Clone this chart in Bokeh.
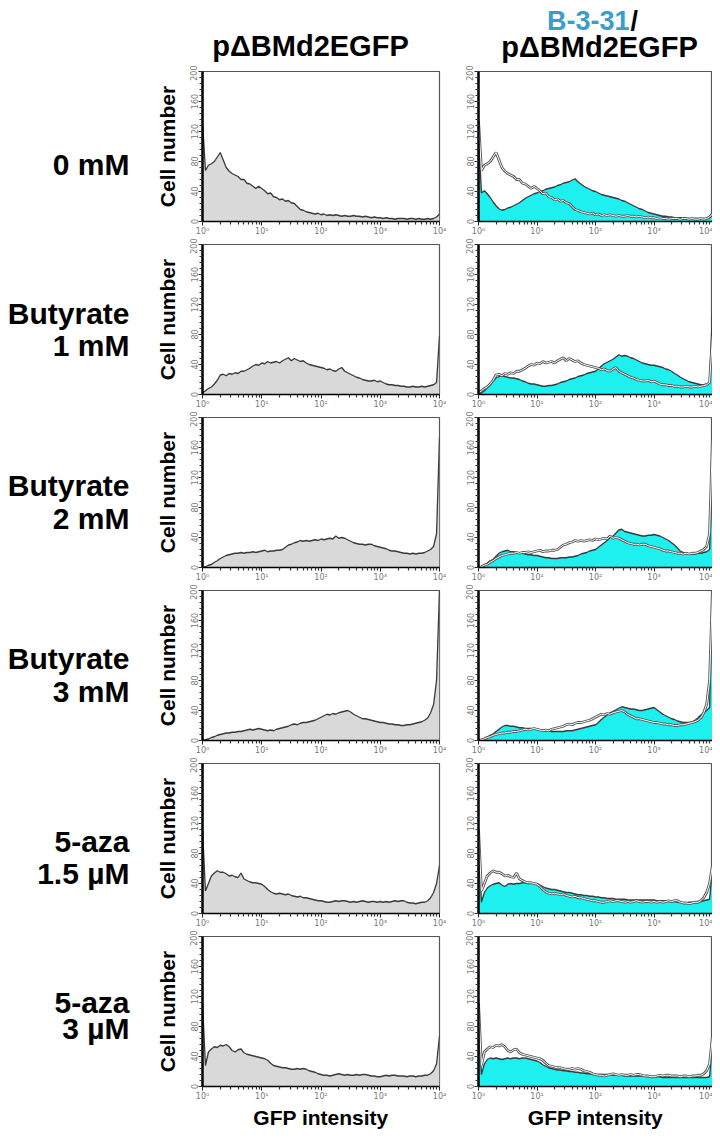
import numpy as np
from bokeh.plotting import figure
from bokeh.layouts import column, row
from bokeh.models import Range1d, FixedTicker, CustomJSTickFormatter
from bokeh.core.properties import value
from bokeh.embed import file_html
from bokeh.resources import INLINE

# ---------------- data ----------------
row_labels = [["0 mM"], ["Butyrate", "1 mM"], ["Butyrate", "2 mM"],
              ["Butyrate", "3 mM"], ["5-aza", "1.5 µM"], ["5-aza", "3 µM"]]
col_titles = ["pΔBMd2EGFP", "B-3-31", "/", "pΔBMd2EGFP"]
x_ticks = [1, 10, 100, 1000, 10000]
y_ticks = [0, 40, 80, 120, 160, 200]
x_label = "GFP intensity"
y_label = "Cell number"

# channel grid: 0.05 decade bins from 10^0 to 10^4 (81 channels)
channels = 10 ** (np.arange(81) * 0.05)

ctrl_0mM = [134, 68, 75, 77, 80, 86, 92, 82, 72, 67,
            64, 62, 60, 56, 56, 51, 50, 47, 44, 47,
            44, 41, 37, 38, 33, 32, 29, 30, 27, 28,
            25, 24, 20, 16, 15, 13, 12, 11, 10, 11,
            9, 10, 8, 9, 8, 9, 8, 7, 8, 7,
            7, 8, 7, 7, 6, 7, 6, 5, 6, 5,
            5, 4, 5, 4, 4, 3, 4, 4, 4, 3,
            4, 4, 3, 4, 3, 3, 4, 3, 4, 6,
            10]
b331_0mM = [120, 38, 41, 37, 32, 26, 21, 17, 15, 16,
            18, 19, 21, 23, 25, 28, 31, 33, 35, 37,
            38, 40, 41, 43, 44, 45, 46, 48, 49, 51,
            52, 53, 55, 57, 53, 50, 47, 45, 43, 41,
            40, 38, 36, 35, 34, 33, 32, 31, 30, 28,
            27, 25, 23, 21, 19, 17, 16, 14, 12, 11,
            10, 9, 8, 7, 7, 6, 6, 5, 5, 5,
            4, 4, 4, 4, 4, 4, 4, 4, 4, 5,
            8]
ctrl_but1 = [2, 5, 8, 10, 14, 19, 26, 27, 25, 28,
             27, 29, 28, 31, 31, 33, 35, 38, 40, 39,
             42, 41, 44, 42, 43, 44, 42, 45, 47, 49,
             45, 48, 46, 44, 45, 42, 40, 39, 38, 37,
             36, 35, 33, 34, 32, 31, 34, 36, 31, 29,
             27, 25, 23, 22, 20, 19, 18, 18, 19, 17,
             18, 16, 14, 13, 13, 12, 12, 11, 11, 10,
             10, 11, 10, 10, 11, 10, 11, 12, 13, 16,
             78]
b331_but1 = [1, 2, 5, 9, 13, 18, 22, 24, 25, 24,
             23, 22, 22, 21, 20, 18, 17, 15, 14, 14,
             13, 12, 11, 11, 12, 12, 13, 14, 16, 17,
             18, 20, 21, 22, 24, 25, 26, 28, 29, 30,
             31, 34, 38, 41, 43, 45, 47, 50, 53, 51,
             52, 51, 49, 48, 46, 44, 42, 41, 40, 39,
             39, 38, 37, 36, 34, 33, 31, 28, 26, 23,
             21, 19, 17, 16, 15, 14, 13, 13, 14, 15,
             113]
ctrl_but2 = [0, 1, 3, 4, 7, 9, 12, 14, 16, 17,
             18, 19, 19, 20, 19, 20, 20, 21, 20, 21,
             22, 23, 21, 22, 22, 23, 23, 24, 27, 30,
             31, 33, 34, 36, 35, 36, 35, 36, 37, 36,
             38, 37, 38, 39, 38, 42, 39, 40, 39, 37,
             35, 33, 32, 31, 31, 30, 31, 31, 29, 28,
             27, 26, 25, 23, 22, 22, 21, 20, 19, 19,
             18, 19, 18, 19, 19, 20, 22, 24, 28, 45,
             173]
b331_but2 = [0, 1, 4, 6, 9, 11, 15, 19, 21, 22,
             23, 21, 21, 20, 19, 19, 18, 17, 17, 16,
             16, 15, 14, 13, 13, 12, 12, 12, 13, 13,
             13, 14, 14, 15, 16, 18, 19, 20, 22, 23,
             24, 27, 30, 33, 36, 40, 42, 46, 50, 51,
             48, 47, 46, 45, 44, 43, 42, 42, 43, 43,
             44, 43, 42, 40, 38, 36, 33, 30, 26, 22,
             20, 19, 18, 18, 18, 19, 19, 20, 21, 24,
             116]
ctrl_but3 = [0, 1, 2, 4, 5, 7, 8, 9, 10, 10,
             11, 11, 12, 12, 13, 14, 15, 14, 15, 16,
             15, 14, 13, 14, 13, 15, 16, 17, 18, 19,
             21, 22, 21, 23, 24, 24, 25, 26, 27, 29,
             31, 33, 35, 34, 36, 35, 37, 38, 39, 40,
             38, 35, 33, 31, 29, 29, 28, 27, 26, 25,
             24, 24, 23, 22, 22, 21, 21, 20, 20, 21,
             21, 22, 23, 24, 25, 27, 30, 37, 48, 80,
             200]
b331_but3 = [0, 1, 3, 5, 7, 9, 12, 15, 18, 20,
             20, 19, 19, 18, 17, 17, 16, 16, 16, 15,
             15, 14, 14, 13, 13, 12, 12, 12, 12, 12,
             13, 13, 13, 14, 15, 16, 17, 18, 19, 20,
             21, 24, 28, 31, 34, 37, 39, 41, 43, 45,
             44, 43, 42, 42, 41, 40, 40, 41, 42, 43,
             44, 41, 38, 35, 33, 31, 29, 28, 26, 25,
             24, 24, 24, 25, 27, 30, 34, 37, 40, 44,
             200]
ctrl_aza15 = [112, 30, 40, 50, 54, 57, 55, 55, 53, 50,
              51, 49, 48, 54, 46, 44, 42, 41, 41, 40,
              39, 36, 32, 29, 27, 26, 27, 26, 25, 26,
              24, 23, 22, 23, 21, 21, 20, 19, 18, 17,
              17, 16, 15, 15, 16, 17, 16, 17, 17, 16,
              15, 16, 15, 16, 17, 16, 15, 16, 16, 15,
              16, 15, 16, 15, 16, 17, 16, 17, 17, 15,
              14, 14, 13, 14, 15, 15, 17, 21, 28, 40,
              64]
b331_aza15 = [113, 15, 28, 34, 37, 39, 40, 41, 38, 36,
              39, 40, 39, 40, 40, 41, 41, 40, 41, 40,
              40, 38, 36, 34, 33, 32, 32, 31, 30, 29,
              28, 28, 27, 26, 25, 25, 24, 24, 23, 23,
              22, 22, 21, 21, 20, 20, 20, 19, 19, 19,
              19, 18, 18, 18, 18, 18, 18, 18, 18, 18,
              18, 17, 17, 17, 17, 16, 16, 16, 15, 15,
              14, 14, 15, 15, 15, 16, 16, 17, 18, 19,
              60]
ctrl_aza3 = [111, 28, 46, 50, 53, 52, 55, 54, 56, 53,
             48, 46, 49, 50, 45, 43, 42, 41, 40, 39,
             38, 37, 35, 31, 28, 27, 26, 25, 25, 24,
             23, 23, 24, 23, 24, 23, 21, 20, 19, 17,
             16, 15, 15, 14, 15, 16, 17, 16, 15, 16,
             15, 15, 16, 15, 16, 16, 15, 14, 14, 13,
             13, 14, 15, 14, 15, 15, 14, 14, 14, 13,
             14, 14, 13, 14, 14, 15, 15, 17, 21, 30,
             67]
b331_aza3 = [111, 16, 30, 36, 38, 37, 38, 37, 36, 37,
             38, 37, 38, 38, 37, 38, 38, 37, 36, 35,
             34, 32, 29, 27, 25, 24, 23, 22, 22, 21,
             21, 20, 20, 19, 19, 18, 18, 17, 17, 16,
             16, 16, 16, 16, 16, 16, 15, 15, 15, 15,
             14, 14, 14, 14, 14, 14, 14, 14, 13, 13,
             13, 13, 13, 12, 12, 12, 12, 12, 12, 12,
             12, 12, 12, 12, 12, 12, 12, 12, 12, 13,
             60]

control_series = [ctrl_0mM, ctrl_but1, ctrl_but2, ctrl_but3, ctrl_aza15, ctrl_aza3]
b331_series = [b331_0mM, b331_but1, b331_but2, b331_but3, b331_aza15, b331_aza3]

# ---------------- layout / style ----------------
FONT = "Liberation Sans"
TICK_FONT = "DejaVu Sans"
GREY_FILL = "#d9d9d9"
CYAN = "#1ef0f0"
EDGE = "#3a3a3a"
TITLE_BLUE = "#3a9dcb"

LABEL_W = 142
HEADER_H = 65
TOP_B = 6
FRAME_H = 150
BOT_B = 17
LAST_BOT_B = 43
ROW_H = TOP_B + FRAME_H + BOT_B
label_baselines = [[180], [326, 362], [498, 535], [671, 708], [855, 892], [1027, 1062]]

x_minor = [m * 10 ** k for k in range(4) for m in range(2, 10)]
y_minor = list(range(0, 201, 8))

tick_fmt = CustomJSTickFormatter(code="""
const s = ['\u2070', '\u00b9', '\u00b2', '\u00b3', '\u2074'];
const k = Math.round(Math.log10(tick));
return '10' + s[k];
""")


def blank_fig(w, h, xr, yr):
    f = figure(width=w, height=h, x_range=Range1d(*xr), y_range=Range1d(*yr),
               x_axis_location=None, y_axis_location=None, min_border=0,
               toolbar_location=None, output_backend="svg")
    f.grid.visible = False
    f.outline_line_color = None
    return f


def panel(left, last, ctrl, b331=None):
    fw = 237 if left else 234
    p = figure(x_axis_type="log", x_range=Range1d(1, 10000), y_range=Range1d(0, 200),
               frame_width=fw, frame_height=FRAME_H,
               min_border_left=60 if left else 29, min_border_right=10 if left else 0,
               min_border_top=TOP_B, min_border_bottom=LAST_BOT_B if last else BOT_B,
               toolbar_location=None, output_backend="svg")
    p.grid.visible = False
    p.outline_line_color = "#555555"
    p.outline_line_width = 1.2

    xa = p.xaxis[0]
    xa.ticker = FixedTicker(ticks=x_ticks, minor_ticks=x_minor)
    xa.formatter = tick_fmt
    ya = p.yaxis[0]
    ya.ticker = FixedTicker(ticks=y_ticks, minor_ticks=y_minor)
    ya.major_label_orientation = "vertical"
    for a in (xa, ya):
        a.major_label_text_font = TICK_FONT
        a.major_label_text_font_size = "8px"
        a.major_label_text_color = "#777777"
        a.major_label_standoff = 1
        a.major_tick_in = 0
        a.major_tick_out = 4
        a.minor_tick_in = 0
        a.minor_tick_out = 3
        a.major_tick_line_color = "#222222"
        a.minor_tick_line_color = "#333333"
        a.minor_tick_line_width = 1.2
        a.axis_line_color = "black"
    xa.axis_line_width = 1.3
    ya.axis_line_width = 2.5
    ya.major_tick_line_width = 1.2
    if left:
        ya.axis_label = y_label
        ya.axis_label_text_font = FONT
        ya.axis_label_text_font_style = "bold"
        ya.axis_label_text_font_size = "21px"
        ya.axis_label_text_color = "black"
        ya.axis_label_standoff = 9
    if last:
        xa.axis_label = x_label
        xa.axis_label_text_font = FONT
        xa.axis_label_text_font_style = "bold"
        xa.axis_label_text_font_size = "21px"
        xa.axis_label_text_color = "black"
        xa.axis_label_standoff = 2

    if b331 is None:
        p.varea(x=channels, y1=0, y2=ctrl, fill_color=GREY_FILL)
        p.line(channels, ctrl, line_color=EDGE, line_width=1.3)
    else:
        p.varea(x=channels, y1=0, y2=b331, fill_color=CYAN)
        p.line(channels, b331, line_color=EDGE, line_width=1.3)
        p.line(channels, ctrl, line_color="#555555", line_width=2.8)
        p.line(channels, ctrl, line_color="white", line_width=1.0)
    return p


# header
header = blank_fig(712, HEADER_H, (8, 720), (8 + HEADER_H, 8))
title_kw = dict(text_font=value(FONT), text_font_style="bold", text_baseline="alphabetic")
header.text(x=[318], y=[53], text=[col_titles[0]], text_align="center", text_color="black",
            text_font_size="29px", **title_kw)
header.text(x=[637], y=[28], text=[col_titles[1]], text_align="right", text_color=TITLE_BLUE,
            text_font_size="27px", **title_kw)
header.text(x=[638], y=[28], text=[col_titles[2]], text_align="left", text_color="black",
            text_font_size="27px", **title_kw)
header.text(x=[607], y=[54], text=[col_titles[3]], text_align="center", text_color="black",
            text_font_size="29px", **title_kw)

rows = [header]
for i in range(6):
    last = i == 5
    h = ROW_H if not last else TOP_B + FRAME_H + LAST_BOT_B
    top = 8 + HEADER_H + ROW_H * i
    lab = blank_fig(LABEL_W, h, (8, 8 + LABEL_W), (top + h, top))
    lab.text(x=[137] * len(row_labels[i]), y=label_baselines[i], text=row_labels[i],
             text_align="right", text_baseline="alphabetic", text_color="black",
             text_font=value(FONT), text_font_style="bold", text_font_size="30px")
    lp = panel(True, last, control_series[i])
    rp = panel(False, last, control_series[i], b331_series[i])
    rows.append(row(lab, lp, rp, spacing=0))

layout = column(*rows, spacing=0)
open("out.html", "w").write(file_html(layout, INLINE))
